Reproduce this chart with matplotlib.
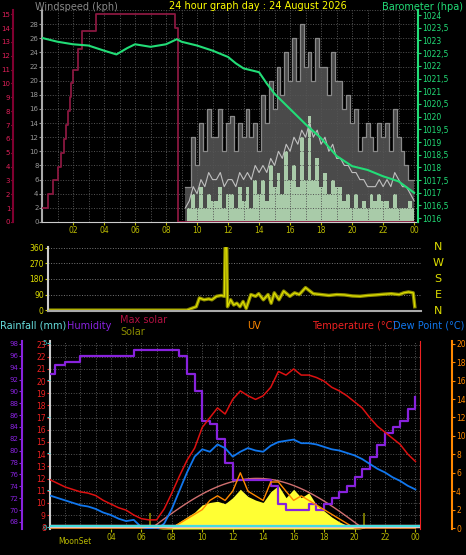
import numpy as np
import matplotlib
matplotlib.use("Agg")
import matplotlib.pyplot as plt

# ---- data ----
baro_h = [0, 1, 2, 3, 4, 4.8, 5.5, 6, 7, 8, 8.7, 9, 10, 11, 12, 12.5, 13, 14, 14.5, 15, 16, 17, 18, 19, 20, 21, 22, 23, 24]
baro_v = [1023.1, 1022.95, 1022.85, 1022.8, 1022.6, 1022.45, 1022.7, 1022.85, 1022.75, 1022.85, 1023.05, 1022.95, 1022.8, 1022.6,
          1022.35, 1022.1, 1021.9, 1021.75, 1021.3, 1020.9, 1020.3, 1019.7, 1019.15, 1018.45, 1018.05, 1017.9, 1017.65, 1017.45, 1017.0]

red_h = [0, 0.4, 0.7, 1.0, 1.2, 1.4, 1.55, 1.7, 1.8, 1.9, 2.0, 2.3, 2.6, 3.5, 8.6, 8.75, 24]
red_v = [1, 2, 3, 4, 5, 6, 7, 8, 9, 10, 11, 12.5, 13.8, 15, 14, 0, 0]

wind_h = np.arange(9.25, 24.01, 0.25)
gust = [5, 5, 12, 8, 14, 10, 16, 12, 12, 16, 10, 14, 15, 10, 14, 12, 16, 12, 14, 10,
        18, 14, 20, 16, 22, 18, 24, 20, 26, 20, 28, 22, 24, 20, 26, 22, 22, 18, 24, 20,
        20, 16, 18, 14, 16, 10, 12, 14, 12, 10, 14, 12, 14, 10, 16, 12, 10, 8, 6, 6]
avg = [2, 3, 5, 4, 6, 5, 7, 6, 6, 7, 5, 6, 6, 5, 7, 6, 7, 6, 8, 7,
       8, 7, 9, 8, 10, 9, 11, 10, 12, 11, 13, 12, 14, 12, 13, 11, 12, 10, 11, 9,
       9, 8, 8, 7, 7, 6, 6, 5, 5, 5, 6, 5, 6, 5, 7, 6, 5, 5, 4, 3]
speed = [0, 2, 4, 2, 5, 2, 4, 3, 3, 5, 2, 4, 4, 2, 5, 3, 5, 2, 6, 4,
         6, 3, 8, 5, 7, 4, 10, 6, 8, 5, 12, 6, 15, 6, 9, 5, 7, 4, 6, 5,
         5, 3, 4, 2, 4, 2, 3, 2, 4, 3, 4, 3, 3, 2, 4, 2, 2, 2, 3, 2]

dir_h = [0, 9.4, 9.7, 10.0, 10.2, 10.5, 10.8, 11.0, 11.3, 11.6, 11.8, 11.85, 11.95, 12.0, 12.2, 12.4, 12.6, 12.8, 13.0, 13.2,
         13.5, 13.8, 14.0, 14.3, 14.6, 14.8, 15.0, 15.3, 15.6, 16.0, 16.3, 16.6, 17.0, 17.5, 18, 18.5, 19, 19.5, 20, 20.5,
         21, 21.5, 22, 22.5, 23, 23.3, 23.6, 23.9, 24.0]
dir_v = [0, 0, 10, 20, 70, 60, 65, 60, 80, 85, 80, 360, 360, 20, 60, 30, 40, 20, 50, 10,
         90, 80, 95, 60, 90, 40, 100, 60, 110, 80, 100, 90, 130, 95, 90, 85, 90, 88, 82, 80,
         85, 88, 92, 95, 90, 100, 105, 100, 20]

hum_h = [0, 0.3, 1, 2, 3.5, 5.5, 8, 8.5, 9, 9.5, 10, 10.5, 11, 11.5, 12, 13, 14, 14.5, 15, 15.5, 16, 17, 17.5,
         18, 18.5, 19, 19.5, 20, 20.5, 21, 21.5, 22, 22.5, 23, 23.5, 24]
hum_v = [93, 94.5, 95, 96, 96, 97, 97, 96, 93, 90, 85, 84.5, 82, 78, 75, 75, 75, 74, 71, 70, 70, 71, 70,
         71, 72, 73, 74, 75.5, 77, 79, 81, 83, 84, 85, 87, 89]

t_h = np.arange(0, 24.01, 0.5)
temp = [11.9, 11.6, 11.3, 11.1, 10.9, 10.8, 10.6, 10.2, 9.9, 9.6, 9.4, 9.0, 8.7, 8.6, 8.6, 9.5, 10.8, 12.2, 13.5, 14.5,
        16.2, 17.0, 17.8, 17.3, 18.5, 19.2, 18.8, 18.5, 18.8, 19.5, 20.8, 20.5, 21.0, 20.5, 20.5, 20.3, 20.0, 19.5,
        19.2, 18.8, 18.3, 17.8, 17.0, 16.3, 15.8, 15.3, 14.8, 14.0, 13.4]
dew = [10.6, 10.4, 10.2, 10.0, 9.8, 9.7, 9.5, 9.2, 9.0, 8.7, 8.5, 8.6, 8.0, 7.9, 7.8, 8.3, 9.5, 11.0, 12.5, 13.8,
       14.4, 14.2, 14.8, 14.5, 13.8, 14.2, 14.5, 14.3, 14.2, 14.7, 15.0, 15.1, 15.2, 14.9, 14.9, 14.8, 14.6, 14.4,
       14.3, 14.1, 13.9, 13.6, 13.2, 12.8, 12.5, 12.1, 11.8, 11.4, 11.1]
uv = [0] * 17 + [0.5, 1, 1.5, 2, 3, 3.5, 3, 4, 6, 4, 3.5, 3, 5, 5, 4, 3, 3.5, 3, 2.5, 2, 1.5, 1, 0.5, 0, 0, 0, 0, 0, 0, 0, 0, 0]
solar = [0] * 15 + [5, 20, 60, 100, 140, 200, 220, 230, 210, 260, 330, 270, 240, 220, 310, 360, 260, 330, 260, 300,
                    200, 150, 100, 60, 30, 10, 0, 0, 0, 0, 0, 0, 0, 0]
sunrise, sunset, solar_peak = 6.6, 20.6, 420

W, H = 466, 555
fig = plt.figure(figsize=(W / 100, H / 100), dpi=100, facecolor="black")
FS = 5.5


def rect(l, r, t, b):
    return [l / W, 1 - b / H, (r - l) / W, (b - t) / H]


def style(ax, color):
    ax.set_facecolor("none")
    ax.tick_params(colors=color, labelsize=FS, length=2, width=0.8, pad=1)
    for s in ax.spines.values():
        s.set_visible(False)


def hour_ticks(ax, labels=True):
    ax.set_xticks(range(2, 25, 2))
    ax.set_xticklabels(["%02d" % (h % 24) for h in range(2, 25, 2)] if labels else [])
    ax.tick_params(axis="x", colors="#bbbb00", labelsize=FS, length=2)
    ax.set_xticks(range(1, 25, 1), minor=True)
    ax.grid(True, which="both", color="#555555", ls=":", lw=0.7)


# ---- top panel ----
ax = fig.add_axes(rect(42, 418, 10, 222))
ax.set_facecolor("black")
style(ax, "#999999")
ax.spines["left"].set_visible(True); ax.spines["left"].set_color("#aaaaaa"); ax.spines["left"].set_linewidth(1.5)
ax.spines["bottom"].set_visible(True); ax.spines["bottom"].set_color("#cccccc")
ax.set_xlim(0, 24.25); ax.set_ylim(0, 30)
ax.set_yticks(range(0, 31, 2))
ax.set_yticklabels([str(v) for v in range(0, 29, 2)] + [""])
ax.tick_params(axis="y", labelsize=5, pad=0.5)
hour_ticks(ax)
ax.fill_between(wind_h, speed, gust, step="mid", color="#4a4a4a", lw=0)
ax.step(wind_h, gust, where="mid", color="#8a8a8a", lw=0.9)
ax.fill_between(wind_h, 0, speed, step="mid", color="#c8f0c8", lw=0, alpha=0.85)
ax.plot(wind_h, avg, color="#c0c0c0", lw=0.8)

axr = ax.twinx()
style(axr, "#800030")
axr.spines["left"].set_visible(True); axr.spines["left"].set_color("#800030")
axr.spines["left"].set_position(("outward", 21)); axr.spines["left"].set_linewidth(1.5)
axr.yaxis.tick_left(); axr.set_ylim(0, 15.3); axr.set_yticks(range(0, 16))
axr.tick_params(colors="#e0205a", labelsize=5, pad=0.3, length=1.5)
axr.step(red_h, red_v, where="post", color="#8a1840", lw=1.3)

axb = ax.twinx()
style(axb, "#22dd77")
axb.spines["right"].set_visible(True); axb.spines["right"].set_color("#22dd77"); axb.spines["right"].set_linewidth(1.5)
axb.set_ylim(1015.85, 1024.2)
axb.set_yticks(np.arange(1016, 1024.01, 0.5))
axb.set_yticklabels([("%g" % v).replace(".", ",") for v in np.arange(1016, 1024.01, 0.5)])
axb.plot(baro_h, baro_v, color="#22dd77", lw=1.5)

fig.text(35 / W, 1 - 7 / H, "Windspeed (kph)", color="#888888", fontsize=7, va="center")
fig.text(258 / W, 1 - 6 / H, "24 hour graph day : 24 August 2026", color="yellow", fontsize=7, va="center", ha="center")
fig.text(463 / W, 1 - 7 / H, "Barometer (hpa)", color="#22dd77", fontsize=7, va="center", ha="right")

# ---- direction panel ----
axd = fig.add_axes(rect(48, 421, 247, 311))
axd.set_facecolor("black")
style(axd, "#dddd00")
axd.spines["left"].set_visible(True); axd.spines["left"].set_color("#cccccc"); axd.spines["left"].set_linewidth(1.5)
axd.spines["bottom"].set_visible(True); axd.spines["bottom"].set_color("#aaaaaa"); axd.spines["bottom"].set_linewidth(1.5)
axd.set_xlim(0.5, 24.4); axd.set_ylim(-5, 365)
axd.set_yticks([0, 90, 180, 270, 360]); axd.set_xticks([])
axd.grid(True, axis="y", color="#777777", ls=":", lw=0.7)
axd.plot(dir_h, dir_v, color="#8a8a00", lw=2.5)
axd.plot(dir_h, dir_v, color="#dddd00", lw=0.9)
for lab, v in zip("NWSEN", [360, 270, 180, 90, 0]):
    fig.text(438 / W, 1 - (311 - v / 360 * 64) / H, lab, color="#dddd00", fontsize=8, va="center", ha="center")

# ---- bottom panel ----
axt = fig.add_axes(rect(50, 420, 341, 529))
axt.set_facecolor("black")
style(axt, "#ee2222")
axt.spines["left"].set_visible(True); axt.spines["left"].set_color("#cccccc"); axt.spines["left"].set_linewidth(1.5)
axt.spines["right"].set_visible(True); axt.spines["right"].set_color("#ee2222")
axt.yaxis.tick_right()
axt.set_xlim(0, 24.3); axt.set_ylim(7.85, 23.3)
axt.set_yticks(range(8, 24))
hour_ticks(axt, labels=False)
axt.set_xticks([4, 6, 8, 10, 12, 14, 16, 18, 20, 22, 24])
axt.set_xticklabels(["04", "06", "08", "10", "12", "14", "16", "18", "20", "22", "00"])

axs = axt.twinx()
style(axs, "black"); axs.set_yticks([]); axs.set_ylim(0, 1560)
sh = np.linspace(sunrise, sunset, 100)
axs.fill_between(t_h, 0, solar, color="#ffff33", lw=0)
axs.plot(sh, solar_peak * np.sin(np.pi * (sh - sunrise) / (sunset - sunrise)), color="#d07070", lw=1)
axs.vlines([sunrise, sunset], 0, 130, color="#8a8a00", lw=1.2)

axh = axt.twinx()
style(axh, "#8822dd")
axh.yaxis.tick_left()
axh.spines["left"].set_visible(True); axh.spines["left"].set_color("#8822dd")
axh.spines["left"].set_position(("outward", 20)); axh.spines["left"].set_linewidth(1.5)
axh.set_ylim(66.8, 98.5); axh.set_yticks(range(68, 99, 2))
axh.tick_params(labelsize=5, pad=0.5)
axh.step(hum_h, hum_v, where="post", color="#8822dd", lw=1.6)

axu = axt.twinx()
style(axu, "#ff8800")
axu.spines["right"].set_visible(True); axu.spines["right"].set_color("#ff8800")
axu.spines["right"].set_position(("outward", 23)); axu.spines["right"].set_linewidth(1.5)
axu.set_ylim(-0.1, 20.3); axu.set_yticks(range(0, 21, 2))
axu.plot(t_h, uv, color="#ff8800", lw=1)

axc = axt.twinx()
style(axc, "black"); axc.set_yticks([]); axc.set_ylim(7.85, 23.3)
axc.plot(t_h, temp, color="#dd1111", lw=1.1)
axc.plot(t_h, dew, color="#1177ee", lw=1.3)

axrain = axt.twinx()
style(axrain, "#44cccc")
axrain.yaxis.tick_left(); axrain.set_ylim(-0.05, 5.05)
axrain.set_yticks(range(0, 6)); axrain.set_yticklabels(["0", "", "", "", "", "5"])
axrain.tick_params(labelsize=5, pad=0.5)
axrain.axhline(0.04, color="#f0c0c0", lw=2.5)
axrain.axhline(0.02, color="#44dddd", lw=1.5)

fig.text(0, 1 - 326 / H, "Rainfall (mm)", color="#66dddd", fontsize=7, va="center")
fig.text(67 / W, 1 - 326 / H, "Humidity", color="#8822dd", fontsize=7, va="center")
fig.text(120 / W, 1 - 320 / H, "Max solar", color="#b01040", fontsize=7, va="center")
fig.text(120 / W, 1 - 332 / H, "Solar", color="#8a8a00", fontsize=7, va="center")
fig.text(254 / W, 1 - 326 / H, "UV", color="#ff8800", fontsize=7, va="center", ha="center")
fig.text(312 / W, 1 - 326 / H, "Temperature (°C)", color="#ee2222", fontsize=7, va="center")
fig.text(393 / W, 1 - 326 / H, "Dew Point (°C)", color="#1177ee", fontsize=7, va="center")
fig.text(58 / W, 1 - 542 / H, "MoonSet", color="#bbbb00", fontsize=5.5, va="center")

fig.savefig("out.png", dpi=100, facecolor="black")
